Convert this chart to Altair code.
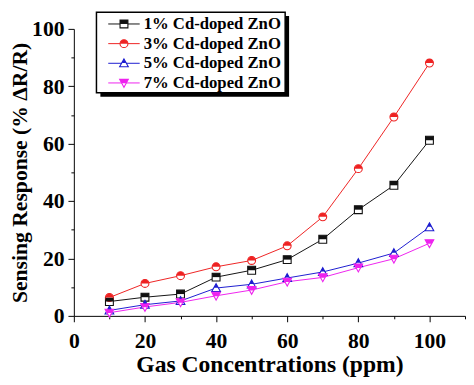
import altair as alt
import pandas as pd

conc = [10, 20, 30, 40, 50, 60, 70, 80, 90, 100]
series_names = ["1% Cd-doped ZnO", "3% Cd-doped ZnO", "5% Cd-doped ZnO", "7% Cd-doped ZnO"]
resp_1 = [5.0, 6.5, 7.6, 13.5, 15.9, 19.6, 26.7, 37.0, 45.5, 61.2]
resp_3 = [6.4, 11.3, 14.0, 17.1, 19.3, 24.4, 34.5, 51.3, 69.3, 88.1]
resp_5 = [1.9, 3.9, 5.2, 9.7, 11.0, 13.2, 15.3, 18.4, 21.9, 30.9]
resp_7 = [1.1, 3.1, 4.7, 7.0, 9.0, 11.9, 13.4, 16.8, 19.9, 25.3]
x_ticks = list(range(0, 111, 10))
y_ticks = list(range(0, 101, 10))

colors = ["#111111", "#ee2222", "#1c1cd0", "#ee22ee"]
full_paths = [
    "M -1 -1 H 1 V 1 H -1 Z",
    "M -1 0 A 1 1 0 1 0 1 0 A 1 1 0 1 0 -1 0 Z",
    "M 0 -1.1 L 1.1 0.9 L -1.1 0.9 Z",
    "M -1.1 -0.9 L 1.1 -0.9 L 0 1.1 Z",
]
half_paths = [
    "M -1 -1 H 1 V 0 H -1 Z",
    "M -1 0 A 1 1 0 0 1 1 0 Z",
    "M 0 -1.1 L 0.55 -0.1 L -0.55 -0.1 Z",
    "M -1.1 -0.9 L 1.1 -0.9 L 0.55 0.1 L -0.55 0.1 Z",
]

rows = []
for name, vals in zip(series_names, [resp_1, resp_3, resp_5, resp_7]):
    for c, v in zip(conc, vals):
        rows.append({"series": name, "conc": c, "resp": v})
df = pd.DataFrame(rows)
legend_df = pd.DataFrame({"series": series_names, "row": [0, 1, 2, 3]})
one = pd.DataFrame({"a": [0]})

FONT = "Liberation Serif"
color_scale = alt.Scale(domain=series_names, range=colors)
full_shape = alt.Scale(domain=series_names, range=full_paths)
half_shape = alt.Scale(domain=series_names, range=half_paths)

x_axis = alt.Axis(
    values=x_ticks, title="Gas Concentrations (ppm)",
    labelExpr="datum.value % 20 == 0 ? datum.label : ''",
    tickSize={"condition": {"test": "datum.value % 20 == 0", "value": 6}, "value": 3},
    grid=False, domainColor="black", tickColor="black", labelColor="black",
    labelFont=FONT, labelFontSize=22, labelFontWeight="bold", labelPadding=9,
    titleFont=FONT, titleFontSize=24, titleFontWeight="bold", titleColor="black",
    titlePadding=2, labelFlush=False,
)
y_axis = alt.Axis(
    values=y_ticks, title="Sensing Response (% ΔR/R)",
    labelExpr="datum.value % 20 == 0 ? datum.label : ''",
    tickSize={"condition": {"test": "datum.value % 20 == 0", "value": 6}, "value": 3},
    grid=False, domainColor="black", tickColor="black", labelColor="black",
    labelFont=FONT, labelFontSize=22, labelFontWeight="bold", labelPadding=4,
    titleFont=FONT, titleFontSize=22, titleFontWeight="bold", titleColor="black",
    titlePadding=0, labelFlush=False,
)

x = alt.X("conc:Q", scale=alt.Scale(domain=[0, 110], nice=False, zero=False), axis=x_axis)
y = alt.Y("resp:Q", scale=alt.Scale(domain=[0, 100], nice=False), axis=y_axis)

base = alt.Chart(df)
lines = base.mark_line(strokeWidth=1).encode(
    x=x, y=y, color=alt.Color("series:N", scale=color_scale, legend=None)
)
outline = base.mark_point(filled=False, opacity=1, strokeWidth=1.1, size=64).encode(
    x=x, y=y,
    stroke=alt.Stroke("series:N", scale=color_scale, legend=None),
    fill=alt.value("white"),
    shape=alt.Shape("series:N", scale=full_shape, legend=None),
)
half = base.mark_point(filled=True, opacity=1, strokeWidth=0, size=64).encode(
    x=x, y=y,
    color=alt.Color("series:N", scale=color_scale, legend=None),
    shape=alt.Shape("series:N", scale=half_shape, legend=None),
)
main = alt.layer(lines, outline, half).resolve_scale(shape="independent")

ly = alt.Y("row:Q", scale=alt.Scale(domain=[0, 3], range=[-5, 55]), axis=None)
shadow = alt.Chart(one).mark_rect(fill="black").encode(
    x=alt.value(27), x2=alt.value(219), y=alt.value(-13), y2=alt.value(69)
)
box = alt.Chart(one).mark_rect(fill="white", stroke="black", strokeWidth=1.5).encode(
    x=alt.value(23), x2=alt.value(215), y=alt.value(-17), y2=alt.value(65)
)
lbase = alt.Chart(legend_df)
lrule = lbase.mark_rule(strokeWidth=1).encode(
    x=alt.value(35), x2=alt.value(67), y=ly,
    color=alt.Color("series:N", scale=color_scale, legend=None),
)
lout = lbase.mark_point(filled=False, opacity=1, strokeWidth=1.1, size=64).encode(
    x=alt.value(51), y=ly,
    stroke=alt.Stroke("series:N", scale=color_scale, legend=None),
    fill=alt.value("white"),
    shape=alt.Shape("series:N", scale=full_shape, legend=None),
)
lhalf = lbase.mark_point(filled=True, opacity=1, strokeWidth=0, size=64).encode(
    x=alt.value(51), y=ly,
    color=alt.Color("series:N", scale=color_scale, legend=None),
    shape=alt.Shape("series:N", scale=half_shape, legend=None),
)
ltext = lbase.mark_text(
    align="left", baseline="middle", font=FONT, fontWeight="bold", fontSize=17, color="black"
).encode(x=alt.value(71), y=ly, text="series:N")
legend = alt.layer(shadow, box, lrule, lout, lhalf, ltext).resolve_scale(shape="independent")

chart = alt.layer(main, legend).resolve_scale(y="independent", shape="independent").properties(
    width=398, height=292,
    autosize=alt.AutoSizeParams(type="none"),
    padding={"left": 67, "top": 18, "right": 1, "bottom": 62},
).configure_view(stroke=None)

chart.save("out.html", embed_options={"renderer": "svg", "actions": False})
